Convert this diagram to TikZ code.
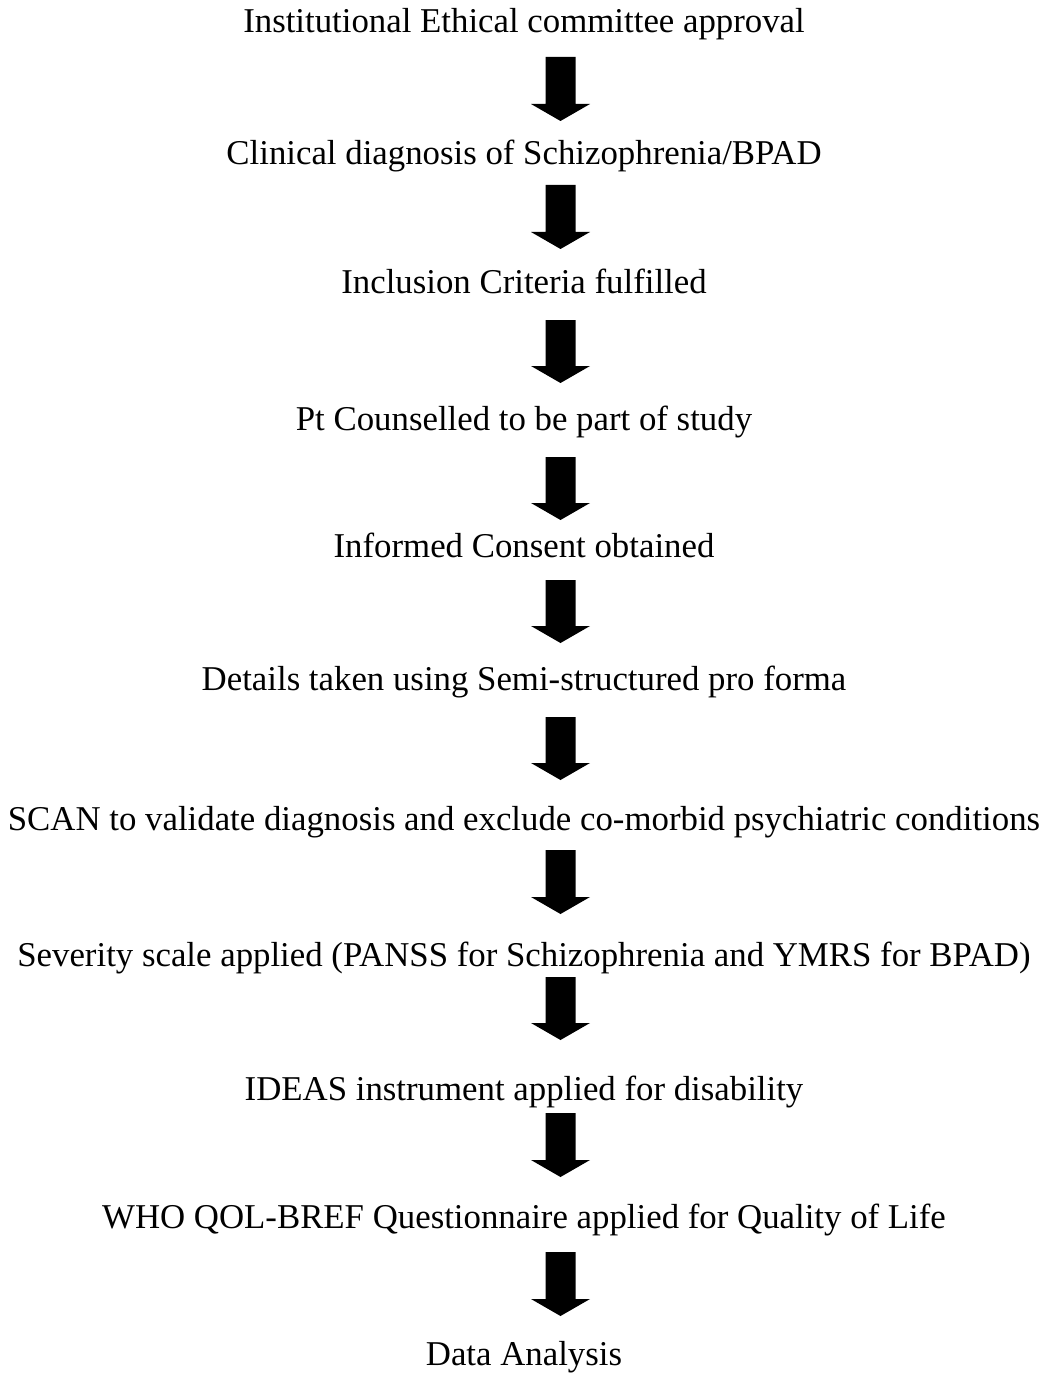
\documentclass[tikz,border=0pt]{standalone}
\usepackage{fontspec}
\setmainfont{Liberation Serif}
\usetikzlibrary{calc}
\tikzset{
  steptext/.style={anchor=base, inner sep=0pt, font=\fontsize{34.8bp}{42bp}\selectfont},
  blockarrow/.style={fill=black, to path={
    ($(\tikztostart)+(-15,0)$) -- ($(\tikztostart)+(15,0)$) --
    ($(\tikztotarget)+(15,-17)$) -- ($(\tikztotarget)+(29.5,-17)$) --
    (\tikztotarget) -- ($(\tikztotarget)+(-29.5,-17)$) --
    ($(\tikztotarget)+(-15,-17)$) -- cycle}}
}
\begin{document}
\begin{tikzpicture}[x=1bp,y=-1bp]
\useasboundingbox (0,0) rectangle (1047,1373);
\node[steptext] (t1) at (524,33) {Institutional Ethical committee approval};
\node[steptext] (t2) at (524,165) {Clinical diagnosis of Schizophrenia/BPAD};
\node[steptext] (t3) at (524,293) {Inclusion Criteria fulfilled};
\node[steptext] (t4) at (524,430) {Pt Counselled to be part of study};
\node[steptext] (t5) at (524,557) {Informed Consent obtained};
\node[steptext] (t6) at (524,690) {Details taken using Semi-structured pro forma};
\node[steptext] (t7) at (524,830) {SCAN to validate diagnosis and exclude co-morbid psychiatric conditions};
\node[steptext] (t8) at (524,966) {Severity scale applied (PANSS for Schizophrenia and YMRS for BPAD)};
\node[steptext] (t9) at (524,1100) {IDEAS instrument applied for disability};
\node[steptext] (t10) at (524,1228) {WHO QOL-BREF Questionnaire applied for Quality of Life};
\node[steptext] (t11) at (524,1365) {Data Analysis};
\coordinate (a1s) at (560.5,57);   \coordinate (a1e) at (560.5,121);
\coordinate (a2s) at (560.5,185);  \coordinate (a2e) at (560.5,249);
\coordinate (a3s) at (560.5,320);  \coordinate (a3e) at (560.5,383);
\coordinate (a4s) at (560.5,457);  \coordinate (a4e) at (560.5,520);
\coordinate (a5s) at (560.5,580);  \coordinate (a5e) at (560.5,643);
\coordinate (a6s) at (560.5,717);  \coordinate (a6e) at (560.5,780);
\coordinate (a7s) at (560.5,850);  \coordinate (a7e) at (560.5,914);
\coordinate (a8s) at (560.5,977);  \coordinate (a8e) at (560.5,1040);
\coordinate (a9s) at (560.5,1113); \coordinate (a9e) at (560.5,1177);
\coordinate (a10s) at (560.5,1252); \coordinate (a10e) at (560.5,1316);
\foreach \i in {1,...,10} { \path[blockarrow] (a\i s) to (a\i e); }
\end{tikzpicture}
\end{document}
